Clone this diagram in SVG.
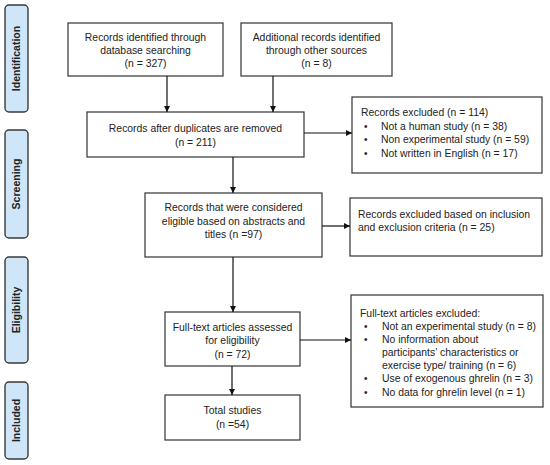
<svg xmlns="http://www.w3.org/2000/svg" width="550" height="465" viewBox="0 0 550 465">
<defs>
<marker id="ah" markerWidth="8" markerHeight="8" refX="6" refY="3" orient="auto" markerUnits="userSpaceOnUse">
<path d="M0,0 L6,3 L0,6 Z" fill="#111"/>
</marker>
<style>
.side{fill:#cfe6f8;stroke:#3a3a3a;stroke-width:1.4}
.box{fill:#fff;stroke:#333;stroke-width:1.2}
.t{font-family:"Liberation Sans Narrow","Liberation Sans",Arial,sans-serif;font-size:10.4px;fill:#222}
.c{text-anchor:middle}
.b{font-family:"Liberation Sans",Arial,sans-serif;font-size:10px;fill:#222}
.st{font-family:"Liberation Sans","Noto Sans",sans-serif;font-size:10.5px;font-weight:bold;fill:#222;text-anchor:middle}
.ln{stroke:#111;stroke-width:1.2;fill:none;marker-end:url(#ah)}
</style>
</defs>
<rect width="550" height="465" fill="#fff"/>
<g id="phase-identification"><rect class="side" x="5" y="5" width="23" height="107" rx="4"/><text class="st" transform="translate(20,58.5) rotate(-90)">Identification</text></g>
<g id="phase-screening"><rect class="side" x="5" y="130" width="23" height="108" rx="4"/><text class="st" transform="translate(20,184) rotate(-90)">Screening</text></g>
<g id="phase-eligibility"><rect class="side" x="5" y="257" width="23" height="106" rx="4"/><text class="st" transform="translate(20,310) rotate(-90)">Eligibility</text></g>
<g id="phase-included"><rect class="side" x="5" y="382" width="23" height="77" rx="4"/><text class="st" transform="translate(20,420.5) rotate(-90)">Included</text></g>

<g id="n1"><rect class="box" x="68" y="23" width="155" height="53"/>
<text class="t c" x="145.5" y="41">Records identified through</text>
<text class="t c" x="145.5" y="54">database searching</text>
<text class="t c" x="145.5" y="67">(n = 327)</text></g>

<g id="n2"><rect class="box" x="241" y="23" width="151" height="53"/>
<text class="t c" x="316.5" y="41">Additional records identified</text>
<text class="t c" x="316.5" y="54">through other sources</text>
<text class="t c" x="316.5" y="67">(n = 8)</text></g>

<g id="n3"><rect class="box" x="87" y="112" width="217" height="45"/>
<text class="t c" x="195.5" y="132">Records after duplicates are removed</text>
<text class="t c" x="195.5" y="146">(n = 211)</text></g>

<g id="x1"><rect class="box" x="352" y="97" width="190" height="76"/>
<text class="t" x="361" y="116">Records excluded (n = 114)</text>
<text class="b" x="364" y="130">•</text><text class="t" x="381" y="130">Not a human study (n = 38)</text>
<text class="b" x="364" y="143">•</text><text class="t" x="381" y="143">Non experimental study (n = 59)</text>
<text class="b" x="364" y="157">•</text><text class="t" x="381" y="157">Not written in English (n = 17)</text></g>

<g id="n4"><rect class="box" x="145" y="193" width="177" height="64"/>
<text class="t c" x="233.5" y="211">Records that were considered</text>
<text class="t c" x="233.5" y="225">eligible based on abstracts and</text>
<text class="t c" x="233.5" y="238">titles (n =97)</text></g>

<g id="x2"><rect class="box" x="350" y="198" width="192" height="58"/>
<text class="t" x="358" y="218">Records excluded based on inclusion</text>
<text class="t" x="358" y="231">and exclusion criteria (n = 25)</text></g>

<g id="n5"><rect class="box" x="165" y="312" width="135" height="54"/>
<text class="t c" x="232.5" y="331">Full-text articles assessed</text>
<text class="t c" x="232.5" y="344">for eligibility</text>
<text class="t c" x="232.5" y="358">(n = 72)</text></g>

<g id="x3"><rect class="box" x="351" y="295" width="192" height="112"/>
<text class="t" x="360" y="317">Full-text articles excluded:</text>
<text class="b" x="364" y="330">•</text><text class="t" x="382" y="330">Not an experimental study (n = 8)</text>
<text class="b" x="364" y="343">•</text><text class="t" x="382" y="343">No information about</text>
<text class="t" x="382" y="356">participants’ characteristics or</text>
<text class="t" x="382" y="369">exercise type/ training (n = 6)</text>
<text class="b" x="364" y="382">•</text><text class="t" x="382" y="382">Use of exogenous ghrelin (n = 3)</text>
<text class="b" x="364" y="396">•</text><text class="t" x="382" y="396">No data for ghrelin level (n = 1)</text></g>

<g id="n6"><rect class="box" x="165" y="395" width="135" height="45"/>
<text class="t c" x="232.5" y="414">Total studies</text>
<text class="t c" x="232.5" y="428">(n =54)</text></g>

<g id="connectors">
<line class="ln" x1="167" y1="76" x2="167" y2="112"/>
<line class="ln" x1="273" y1="76" x2="273" y2="112"/>
<line class="ln" x1="233" y1="157" x2="233" y2="193"/>
<line class="ln" x1="233" y1="257" x2="233" y2="312"/>
<line class="ln" x1="232" y1="366" x2="232" y2="395"/>
<line class="ln" x1="304" y1="133" x2="352" y2="133"/>
<line class="ln" x1="322" y1="226" x2="350" y2="226"/>
<line class="ln" x1="300" y1="340" x2="351" y2="340"/>
</g>
</svg>
